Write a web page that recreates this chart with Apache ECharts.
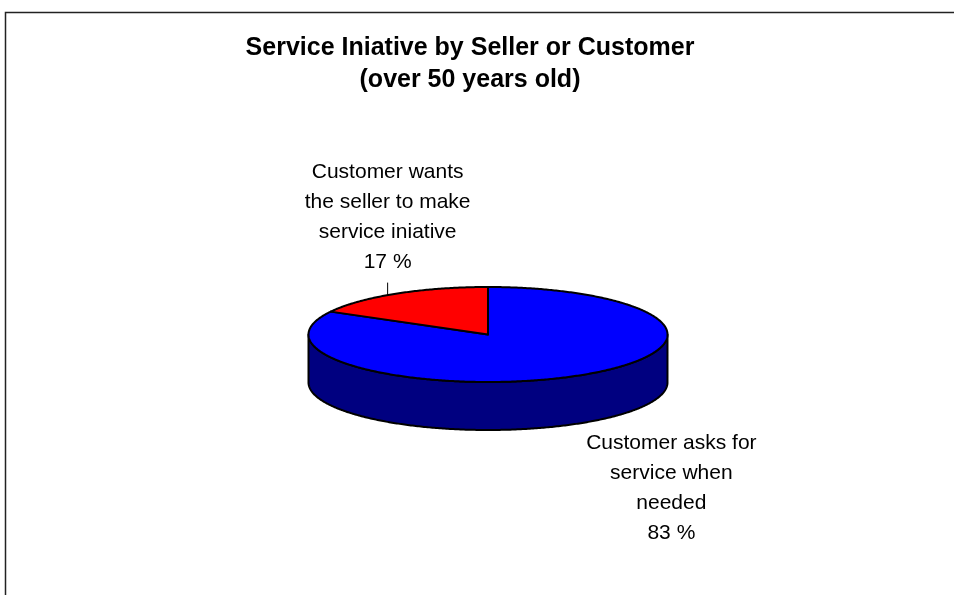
<!DOCTYPE html>
<html>
<head>
<meta charset="utf-8">
<title>Service Iniative by Seller or Customer</title>
<script src="https://cdn.jsdelivr.net/npm/echarts@6/dist/echarts.min.js"></script>
<style>
  html, body { margin: 0; padding: 0; background: #ffffff; }
  #chart { width: 954px; height: 595px; }
</style>
</head>
<body>
<div id="chart"></div>
<script>
// Survey answers, in clockwise order starting at 12 o'clock
const categories = [
  'Customer asks for\nservice when\nneeded',
  'Customer wants\nthe seller to make\nservice iniative'
];
const shares = [83, 17];
const titleLines = ['Service Iniative by Seller or Customer', '(over 50 years old)'];

// Colours of the top faces and of the visible rims
const topColors = ['#0000FF', '#FF0000'];
const rimColors = ['#000080', '#800000'];

// Tilted-disc layout (pixels)
const disc = { cx: 488, cy: 334.5, rx: 179.5, ry: 47.5, depth: 48 };
// Label placement relative to each slice's mid-angle anchor
const labelOffsets = [
  { dx: 92, dy: 5, edge: 'bottom', valign: 'top', leader: false },
  { dx: -9, dy: -16, edge: 'top', valign: 'bottom', leader: true }
];

const total = shares.reduce((a, b) => a + b, 0);

function ellipsePoint(t, drop) {
  return [disc.cx + disc.rx * Math.sin(t), disc.cy - disc.ry * Math.cos(t) + (drop || 0)];
}
function arcPoints(a, b, drop) {
  const pts = [];
  const steps = Math.max(2, Math.ceil(Math.abs(b - a) / 0.01));
  for (let k = 0; k <= steps; k++) {
    pts.push(ellipsePoint(a + (b - a) * k / steps, drop));
  }
  return pts;
}
function topEdgeY(x) {
  const u = (x - disc.cx) / disc.rx;
  return disc.cy - disc.ry * Math.sqrt(Math.max(0, 1 - u * u));
}

function renderSlice(params, api) {
  const i = params.dataIndex;
  const value = api.value(0);
  let before = 0;
  for (let k = 0; k < i; k++) before += shares[k];
  const a = before / total * Math.PI * 2;
  const b = (before + value) / total * Math.PI * 2;
  const children = [];
  const outline = { stroke: '#000000', lineWidth: 2, lineJoin: 'round' };

  // Front rim: only the part of the slice that faces the viewer
  const s = Math.max(a, Math.PI / 2);
  const e = Math.min(b, Math.PI * 3 / 2);
  if (e > s) {
    const upper = arcPoints(s, e, 0);
    const lower = arcPoints(e, s, disc.depth);
    children.push({
      type: 'polygon', z2: 1,
      shape: { points: upper.concat(lower) },
      style: Object.assign({ fill: rimColors[i] }, outline)
    });
  }

  // Top face
  children.push({
    type: 'polygon', z2: 5,
    shape: { points: [[disc.cx, disc.cy]].concat(arcPoints(a, b, 0)) },
    style: Object.assign({ fill: topColors[i] }, outline)
  });

  // Label with the share
  const mid = (a + b) / 2;
  const off = labelOffsets[i];
  const anchor = ellipsePoint(mid, off.edge === 'bottom' ? disc.depth : 0);
  const lx = anchor[0] + off.dx;
  const ly = anchor[1] + off.dy;
  children.push({
    type: 'text', z2: 10,
    style: {
      text: categories[i] + '\n' + value + ' %',
      x: lx, y: ly,
      align: 'center', verticalAlign: off.valign,
      fontFamily: '"Liberation Sans", Arial, sans-serif',
      fontSize: 21, lineHeight: 30, fill: '#000000'
    }
  });
  if (off.leader) {
    const yEdge = topEdgeY(lx);
    children.push({
      type: 'line', z2: 10,
      shape: { x1: lx, y1: yEdge, x2: lx, y2: ly + 5 },
      style: { stroke: '#000000', lineWidth: 1 }
    });
  }
  return { type: 'group', children: children };
}

const chart = echarts.init(document.getElementById('chart'), null, { renderer: 'canvas' });
chart.setOption({
  backgroundColor: '#ffffff',
  animation: false,
  title: {
    text: titleLines.join('\n'),
    left: 470, top: 32, padding: 0,
    textAlign: 'center',
    textStyle: {
      fontFamily: '"Liberation Sans", Arial, sans-serif',
      fontWeight: 'bold', fontSize: 25, lineHeight: 32, color: '#000000'
    }
  },
  graphic: [{
    type: 'rect', silent: true, z: -1,
    shape: { x: 5.5, y: 12.5, width: 1200, height: 1000 },
    style: { fill: null, stroke: '#222222', lineWidth: 1.5 }
  }],
  series: [{
    type: 'custom',
    coordinateSystem: 'none',
    renderItem: renderSlice,
    data: shares.map((v, i) => ({ name: categories[i], value: v }))
  }]
});
</script>
</body>
</html>
